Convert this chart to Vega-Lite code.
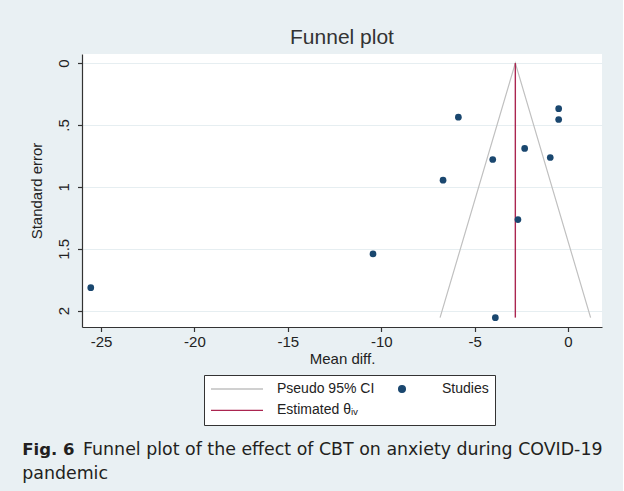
{
  "$schema": "https://vega.github.io/schema/vega-lite/v6.json",
  "background": "#e9f0f3",
  "padding": {"left": 22, "top": 27, "right": 20, "bottom": 10},
  "config": {
    "font": "Liberation Sans",
    "view": {"fill": "white", "stroke": null},
    "axis": {
      "domainColor": "#333333",
      "tickColor": "#333333",
      "labelColor": "#222222",
      "titleColor": "#222222",
      "labelFontSize": 15,
      "titleFontSize": 15,
      "titleFontWeight": "normal",
      "tickSize": 4.5,
      "domainWidth": 1.2,
      "tickWidth": 1.2
    }
  },
  "datasets": {
    "studies": [
      {"md": -5.87, "se": 0.437, "series": "Studies"},
      {"md": -0.50, "se": 0.369, "series": "Studies"},
      {"md": -0.50, "se": 0.456, "series": "Studies"},
      {"md": -2.32, "se": 0.690, "series": "Studies"},
      {"md": -4.03, "se": 0.779, "series": "Studies"},
      {"md": -0.95, "se": 0.763, "series": "Studies"},
      {"md": -6.69, "se": 0.946, "series": "Studies"},
      {"md": -2.68, "se": 1.264, "series": "Studies"},
      {"md": -10.44, "se": 1.542, "series": "Studies"},
      {"md": -3.89, "se": 2.057, "series": "Studies"},
      {"md": -25.55, "se": 1.814, "series": "Studies"}
    ],
    "funnel": [
      {"md": -6.85, "se": 2.056, "series": "Pseudo 95% CI", "order": 1},
      {"md": -2.82, "se": 0, "series": "Pseudo 95% CI", "order": 2},
      {"md": 1.21, "se": 2.056, "series": "Pseudo 95% CI", "order": 3}
    ],
    "estimate": [
      {"md": -2.82, "se": 0, "series": "Estimated θᵢᵥ", "order": 1},
      {"md": -2.82, "se": 2.056, "series": "Estimated θᵢᵥ", "order": 2}
    ]
  },
  "title": {
    "text": "Fig. 6",
    "subtitle": ["\u200b\u00a0\u00a0\u00a0\u00a0\u00a0\u00a0\u00a0\u00a0\u00a0\u00a0\u00a0Funnel plot of the effect of CBT on anxiety during COVID-19", "pandemic"],
    "orient": "bottom",
    "anchor": "start",
    "font": "DejaVu Sans",
    "fontSize": 16.5,
    "fontWeight": "bold",
    "color": "#231f20",
    "subtitleFont": "DejaVu Sans",
    "subtitleFontSize": 17.4,
    "subtitleFontWeight": "normal",
    "subtitleColor": "#231f20",
    "subtitleLineHeight": 23.5,
    "subtitlePadding": -17,
    "offset": 16,
    "dx": -7.3
  },
  "vconcat": [
    {
      "width": 520,
      "height": 273,
      "title": {
        "text": "Funnel plot",
        "font": "Liberation Sans",
        "fontSize": 21,
        "fontWeight": "normal",
        "color": "#333333",
        "anchor": "middle",
        "offset": 6
      },
      "encoding": {
        "x": {
          "field": "md",
          "type": "quantitative",
          "scale": {"domain": [-26.02, 1.82], "nice": false, "zero": false},
          "axis": {
            "values": [-25, -20, -15, -10, -5, 0],
            "labelExpr": "'' + datum.value",
            "title": "Mean diff.",
            "grid": false,
            "labelPadding": 3,
            "titlePadding": 2
          }
        },
        "y": {
          "field": "se",
          "type": "quantitative",
          "scale": {"domain": [-0.073, 2.132], "reverse": true, "nice": false, "zero": false},
          "axis": {
            "values": [0, 0.5, 1, 1.5, 2],
            "labelExpr": "datum.value === 0.5 ? '.5' : '' + datum.value",
            "title": "Standard error",
            "grid": true,
            "gridColor": "#e6eef1",
            "gridWidth": 1,
            "labelAngle": 270,
            "labelAlign": "center",
            "labelBaseline": "bottom",
            "labelPadding": 6,
            "titlePadding": 12
          }
        },
        "color": {
          "field": "series",
          "type": "nominal",
          "scale": {
            "domain": ["Pseudo 95% CI", "Estimated θᵢᵥ", "Studies"],
            "range": ["#c0c0c0", "#ab2550", "#1a476f"]
          },
          "legend": {
            "orient": "none",
            "legendX": 122,
            "legendY": 321,
            "title": null,
            "columns": 2,
            "columnPadding": 0,
            "rowPadding": 5.4,
            "padding": 6,
            "clipHeight": 16,
            "strokeColor": "#333333",
            "fillColor": "white",
            "labelFont": "Liberation Sans",
            "labelFontSize": 14,
            "labelColor": "#222222",
            "labelOffset": 13,
            "symbolStrokeWidth": 1.3
          }
        }
      },
      "layer": [
        {
          "data": {"name": "funnel"},
          "mark": {"type": "line", "strokeWidth": 1.2},
          "encoding": {"order": {"field": "order", "type": "quantitative"}}
        },
        {
          "data": {"name": "estimate"},
          "mark": {"type": "line", "strokeWidth": 1.4},
          "encoding": {"order": {"field": "order", "type": "quantitative"}}
        },
        {
          "data": {"name": "studies"},
          "mark": {"type": "point", "filled": true, "opacity": 1},
          "encoding": {
            "shape": {
              "field": "series",
              "type": "nominal",
              "scale": {
                "domain": ["Pseudo 95% CI", "Estimated θᵢᵥ", "Studies"],
                "range": ["stroke", "stroke", "circle"]
              }
            },
            "size": {
              "field": "series",
              "type": "nominal",
              "scale": {
                "type": "ordinal",
                "domain": ["Pseudo 95% CI", "Estimated θᵢᵥ", "Studies"],
                "range": [2704, 2704, 45]
              }
            }
          }
        }
      ]
    }
  ]
}
